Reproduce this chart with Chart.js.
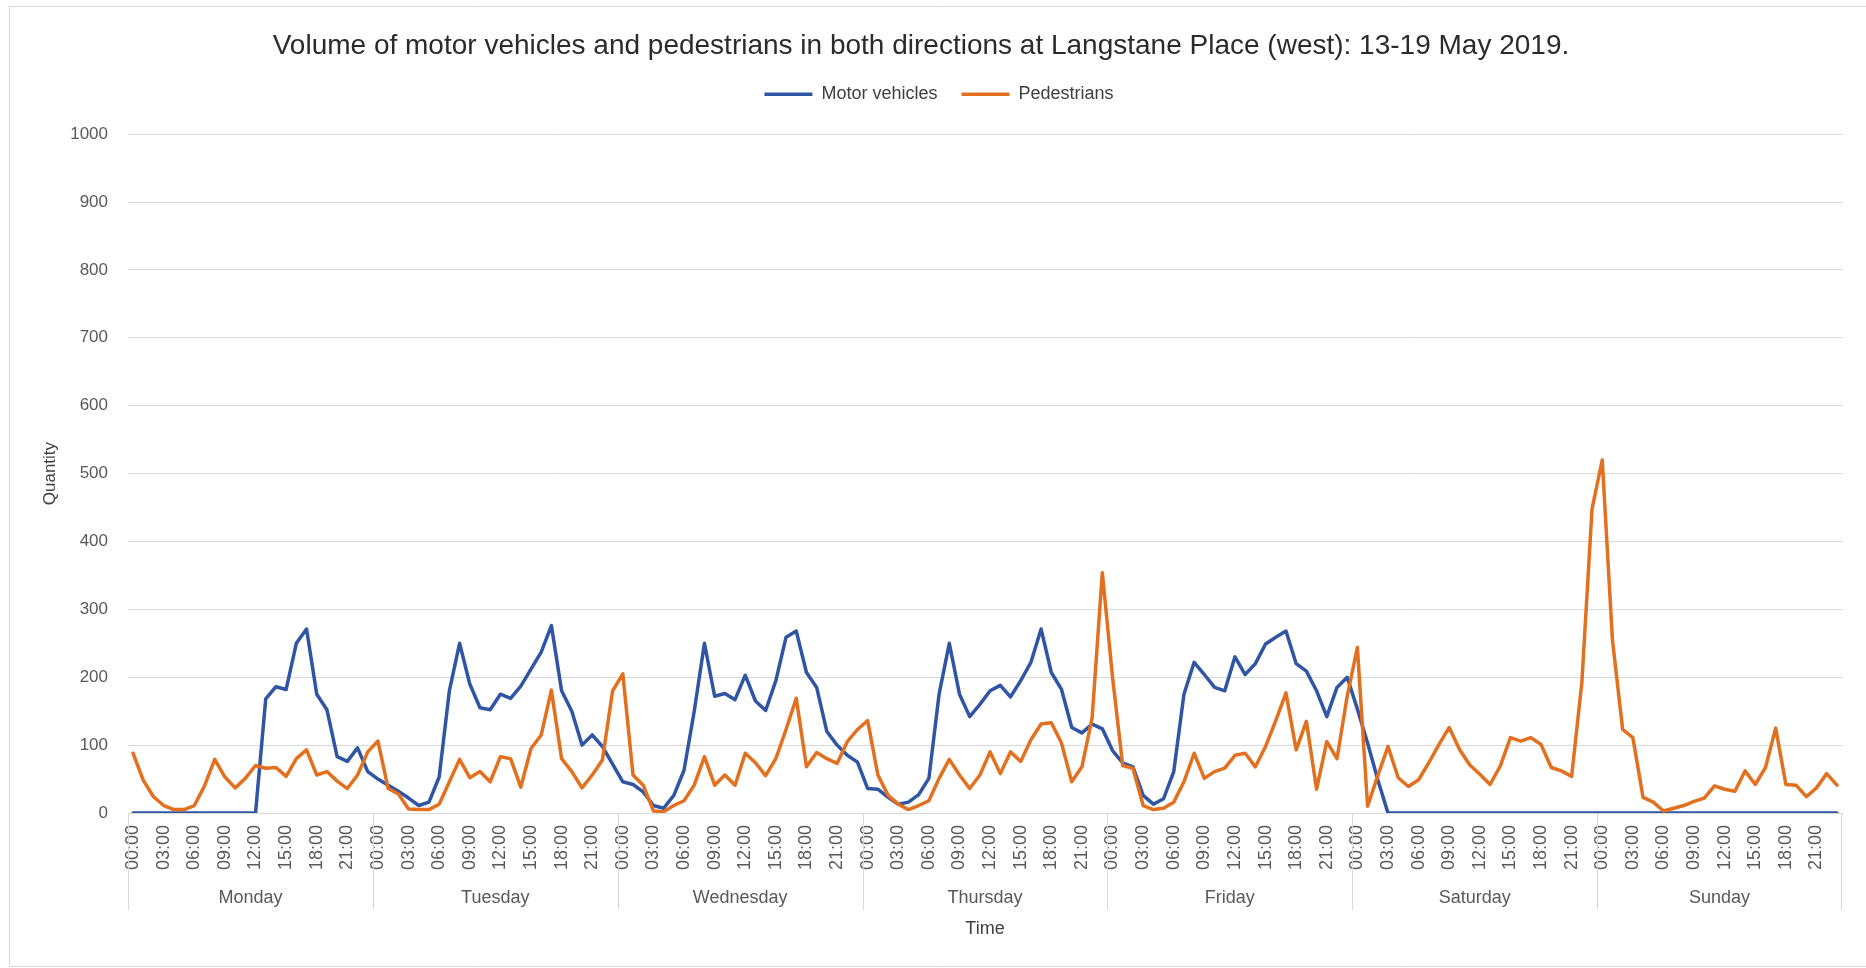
<!DOCTYPE html>
<html>
<head>
<meta charset="utf-8">
<title>Langstane Place (west) traffic</title>
<script src="https://cdn.jsdelivr.net/npm/chart.js@4.4.1/dist/chart.umd.min.js"></script>
<style>
    html, body { margin: 0; padding: 0; background: #fff; }
    canvas { display: block; }
</style>
</head>
<body>
<canvas id="trafficChart" width="1866" height="968"></canvas>
<script>
const days = ['Monday', 'Tuesday', 'Wednesday', 'Thursday', 'Friday', 'Saturday', 'Sunday'];
const hours = ['00:00', '01:00', '02:00', '03:00', '04:00', '05:00', '06:00', '07:00', '08:00', '09:00', '10:00', '11:00',
               '12:00', '13:00', '14:00', '15:00', '16:00', '17:00', '18:00', '19:00', '20:00', '21:00', '22:00', '23:00'];
const yTicks = [0, 100, 200, 300, 400, 500, 600, 700, 800, 900, 1000];

// hourly counts, Monday 00:00 .. Sunday 23:00
const motorVehicles = [
    0, 0, 0, 0, 0, 0, 0, 0, 0, 0, 0, 0, 0, 168, 186, 182, 250, 271, 175, 152, 83, 76, 96, 61,
    50, 41, 32, 22, 11, 16, 53, 180, 250, 190, 155, 152, 175, 169, 187, 212, 237, 276, 180, 150, 100, 115, 98, 72,
    46, 42, 31, 11, 7, 26, 63, 150, 250, 172, 176, 167, 203, 165, 151, 195, 259, 268, 207, 185, 120, 100, 85, 75,
    36, 35, 23, 13, 16, 27, 51, 175, 250, 175, 142, 160, 180, 188, 171, 195, 222, 271, 207, 182, 126, 118, 131, 124,
    92, 74, 68, 26, 13, 21, 61, 175, 222, 204, 185, 180, 230, 204, 220, 249, 259, 268, 220, 209, 180, 142, 185, 200,
    153, 103, 49, 0, 0, 0, 0, 0, 0, 0, 0, 0, 0, 0, 0, 0, 0, 0, 0, 0, 0, 0, 0, 0,
    0, 0, 0, 0, 0, 0, 0, 0, 0, 0, 0, 0, 0, 0, 0, 0, 0, 0, 0, 0, 0, 0, 0, 0
];
const pedestrians = [
    88, 48, 24, 11, 5, 5, 11, 40, 79, 53, 37, 51, 70, 66, 67, 54, 80, 93, 56, 61, 47, 36, 56, 90,
    106, 36, 28, 6, 5, 5, 13, 46, 79, 52, 61, 46, 83, 80, 38, 95, 115, 181, 80, 61, 37, 56, 78, 180,
    205, 56, 41, 3, 2, 11, 18, 41, 83, 41, 56, 41, 88, 74, 55, 80, 123, 169, 68, 89, 80, 73, 105, 123,
    136, 56, 26, 13, 5, 11, 18, 51, 79, 56, 36, 56, 90, 58, 90, 76, 108, 131, 133, 103, 46, 68, 140, 354,
    200, 70, 66, 11, 5, 7, 16, 46, 88, 51, 61, 66, 85, 88, 68, 98, 136, 177, 93, 135, 35, 105, 80, 172,
    244, 10, 55, 98, 52, 39, 49, 74, 101, 126, 94, 71, 57, 42, 69, 111, 106, 111, 101, 67, 62, 54, 192, 448,
    520, 255, 123, 111, 23, 16, 3, 7, 11, 17, 22, 40, 35, 32, 62, 42, 67, 125, 42, 41, 24, 37, 58, 41
];

const FONT = '"Liberation Sans", Arial, sans-serif';
const labels = days.flatMap(d => hours.map(h => h));

// frame around the whole chart, like the Excel chart border
const chartFrame = {
    id: 'chartFrame',
    beforeDraw(chart) {
        const ctx = chart.ctx;
        ctx.save();
        ctx.fillStyle = '#fff';
        ctx.fillRect(0, 0, chart.width, chart.height);
        ctx.strokeStyle = '#d9d9d9';
        ctx.lineWidth = 1;
        ctx.beginPath();
        ctx.moveTo(chart.width, 6.5);
        ctx.lineTo(9.5, 6.5);
        ctx.lineTo(9.5, 966.5);
        ctx.lineTo(chart.width, 966.5);
        ctx.stroke();
        ctx.restore();
    }
};

// leave some room between the legend and the plot, and centre it a bit further right
const legendGap = {
    id: 'legendGap',
    beforeInit(chart) {
        const fit = chart.legend.fit;
        chart.legend.fit = function () {
            fit.bind(chart.legend)();
            this.height += 21;
        };
    },
    afterLayout(chart) {
        chart.legend.left += 18;
        chart.legend.right += 18;
    }
};

// second row of category labels: day names with separators
const dayGroups = {
    id: 'dayGroups',
    afterDraw(chart) {
        const x = chart.scales.x;
        const ctx = chart.ctx;
        const top = chart.chartArea.bottom;
        const half = (x.getPixelForValue(1) - x.getPixelForValue(0)) / 2;
        ctx.save();
        ctx.strokeStyle = '#d9d9d9';
        ctx.lineWidth = 1;
        ctx.fillStyle = '#595959';
        ctx.font = '18px ' + FONT;
        ctx.textAlign = 'center';
        ctx.textBaseline = 'middle';
        days.forEach((day, i) => {
            const first = i * hours.length;
            const last = first + hours.length - 1;
            const left = x.getPixelForValue(first) - half;
            const right = x.getPixelForValue(last) + half;
            ctx.beginPath();
            ctx.moveTo(Math.round(left) + 0.5, top);
            ctx.lineTo(Math.round(left) + 0.5, top + 97);
            if (i === days.length - 1) {
                ctx.moveTo(Math.round(right) - 0.5, top);
                ctx.lineTo(Math.round(right) - 0.5, top + 97);
            }
            ctx.stroke();
            ctx.fillText(day, (left + right) / 2, top + 85);
        });
        ctx.restore();
    }
};

const trafficChart = new Chart(document.getElementById('trafficChart'), {
    type: 'line',
    data: {
        labels: labels,
        datasets: [{
            label: 'Motor vehicles',
            data: motorVehicles,
            borderColor: '#2f55a4',
            backgroundColor: '#2f55a4',
            borderWidth: 3.5,
            pointRadius: 0,
            borderJoinStyle: 'round',
            borderCapStyle: 'round',
            order: 1
        }, {
            label: 'Pedestrians',
            data: pedestrians,
            borderColor: '#e3701f',
            backgroundColor: '#e3701f',
            borderWidth: 3.5,
            pointRadius: 0,
            borderJoinStyle: 'round',
            borderCapStyle: 'round',
            order: 0
        }]
    },
    options: {
        responsive: false,
        animation: false,
        layout: { padding: { left: 0, right: 24, top: 0, bottom: 0 } },
        plugins: {
            title: {
                display: true,
                text: 'Volume of motor vehicles and pedestrians in both directions at Langstane Place (west): 13-19 May 2019.',
                color: '#2b2b2b',
                font: { family: FONT, size: 28, weight: 'normal', lineHeight: 0.72 },
                padding: { top: 36, bottom: 5 }
            },
            legend: {
                display: true,
                labels: {
                    usePointStyle: true,
                    pointStyle: 'line',
                    pointStyleWidth: 48,
                    padding: 24,
                    color: '#404040',
                    font: { family: FONT, size: 18 },
                    sort: (a, b) => a.datasetIndex - b.datasetIndex
                }
            },
            tooltip: { enabled: false }
        },
        scales: {
            x: {
                offset: true,
                grid: { display: false },
                border: { display: true, color: '#d9d9d9' },
                ticks: {
                    autoSkip: false,
                    minRotation: 90,
                    maxRotation: 90,
                    padding: 4,
                    color: '#595959',
                    font: { family: FONT, size: 18 },
                    callback: (value, index) => index % 3 === 0 ? labels[index] : ''
                },
                title: {
                    display: true,
                    text: 'Time',
                    color: '#404040',
                    font: { family: FONT, size: 18 },
                    padding: { top: 0, bottom: 28 }
                },
                afterFit: scale => { scale.height = 155; }
            },
            y: {
                min: 0,
                max: 1000,
                afterBuildTicks: scale => { scale.ticks = yTicks.map(v => ({ value: v })); },
                grid: { color: '#d9d9d9', drawTicks: false },
                border: { display: false },
                ticks: {
                    padding: 20,
                    color: '#595959',
                    font: { family: FONT, size: 17 },
                    callback: value => String(value)
                },
                title: {
                    display: true,
                    text: 'Quantity',
                    color: '#404040',
                    font: { family: FONT, size: 17 },
                    padding: { top: 40, bottom: 0 }
                },
                afterFit: scale => { scale.width = 128; }
            }
        }
    },
    plugins: [chartFrame, legendGap, dayGroups]
});
</script>
</body>
</html>
